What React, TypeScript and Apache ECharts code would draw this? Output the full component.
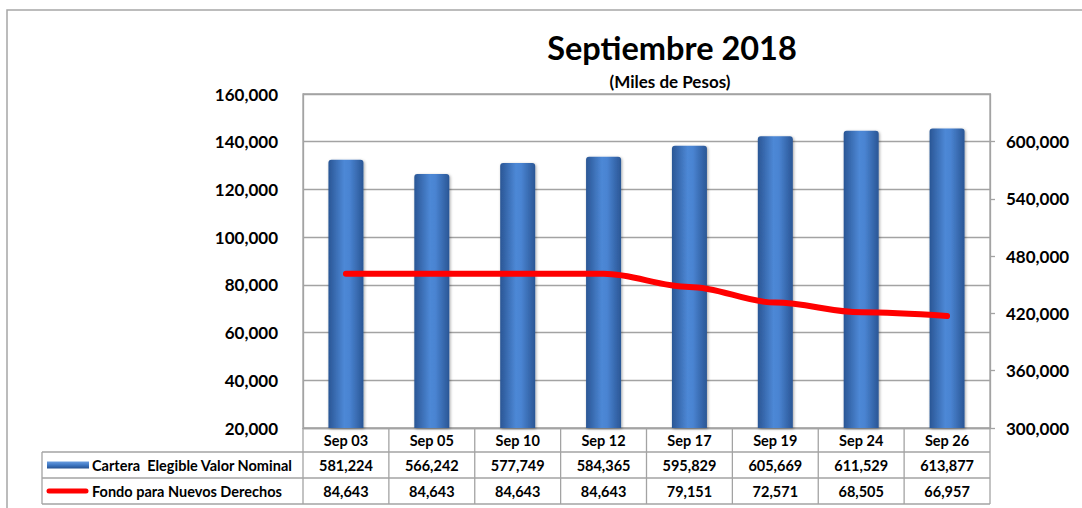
import React, { useEffect, useRef } from "react";
import * as echarts from "echarts";

const categories = ["Sep 03", "Sep 05", "Sep 10", "Sep 12", "Sep 17", "Sep 19", "Sep 24", "Sep 26"];
const carteraValues = [581224, 566242, 577749, 584365, 595829, 605669, 611529, 613877];
const fondoValues = [84643, 84643, 84643, 84643, 79151, 72571, 68505, 66957];
const seriesNames = ["Cartera  Elegible Valor Nominal", "Fondo para Nuevos Derechos"];
const titleText = "Septiembre 2018";
const subtitleText = "(Miles de Pesos)";
const leftAxis = { min: 20000, max: 160000, interval: 20000 };
const rightAxis = { min: 300000, max: 650000, interval: 60000 };

const FONT = "Lato, 'Open Sans', sans-serif";
const GRID_COLOR = "#a3a3a3";
const fmt = (v: number) => v.toLocaleString("en-US");

export default function App() {
  const ref = useRef<HTMLDivElement>(null);
  useEffect(() => {
    if (!ref.current) return;
    const chart = echarts.init(ref.current, undefined, { renderer: "svg" });
    const barGrad = new echarts.graphic.LinearGradient(0, 0, 1, 0, [
      { offset: 0, color: "#2a5695" },
      { offset: 0.45, color: "#4d88d6" },
      { offset: 0.6, color: "#4a84d2" },
      { offset: 1, color: "#2a5695" },
    ]);
    chart.setOption({
      animation: false,
      backgroundColor: "#ffffff",
      grid: {
        left: 303,
        right: 92,
        top: 94,
        bottom: 80,
        show: true,
        borderColor: GRID_COLOR,
        borderWidth: 1.3,
        backgroundColor: "transparent",
      },
      xAxis: {
        type: "category",
        data: categories,
        boundaryGap: true,
        axisLine: { show: true, lineStyle: { color: GRID_COLOR, width: 1.3 } },
        axisTick: { show: false },
        axisLabel: {
          margin: 5,
          fontFamily: FONT,
          fontWeight: "bold",
          fontSize: 14.5,
          color: "#000",
        },
      },
      yAxis: [
        {
          type: "value",
          position: "left",
          min: leftAxis.min,
          max: leftAxis.max,
          interval: leftAxis.interval,
          axisLine: { show: true, lineStyle: { color: GRID_COLOR, width: 1.3 } },
          axisTick: { show: false },
          splitLine: { show: true, lineStyle: { color: GRID_COLOR, width: 1.3 } },
          axisLabel: {
            margin: 25,
            formatter: (v: number) => fmt(v),
            fontFamily: FONT,
            fontWeight: "bold",
            fontSize: 17,
            color: "#000",
          },
        },
        {
          type: "value",
          position: "right",
          min: rightAxis.min,
          max: rightAxis.max,
          interval: rightAxis.interval,
          axisLine: { show: true, lineStyle: { color: GRID_COLOR, width: 1.3 } },
          axisTick: { show: true, length: 5, lineStyle: { color: GRID_COLOR, width: 1.3 } },
          splitLine: { show: false },
          axisLabel: {
            margin: 16,
            showMaxLabel: false,
            formatter: (v: number) => fmt(v),
            fontFamily: FONT,
            fontWeight: "bold",
            fontSize: 17,
            color: "#000",
          },
        },
      ],
      series: [
        {
          name: seriesNames[0],
          type: "bar",
          yAxisIndex: 1,
          data: carteraValues,
          barWidth: 35,
          itemStyle: {
            color: barGrad,
            borderRadius: [3, 3, 0, 0],
            shadowBlur: 3,
            shadowColor: "rgba(0,0,0,0.35)",
            shadowOffsetX: 1,
            shadowOffsetY: 1,
          },
          z: 2,
        },
        {
          name: seriesNames[1],
          type: "line",
          yAxisIndex: 0,
          data: fondoValues,
          smooth: 0.35,
          smoothMonotone: "x",
          showSymbol: false,
          symbol: "none",
          lineStyle: { color: "#ff0000", width: 6, cap: "round", join: "round" },
          z: 3,
        },
      ],
    });

    // Build data table below the plot from library scales
    const centers = categories.map((_, i) => chart.convertToPixel({ xAxisIndex: 0 }, i) as number);
    const step = centers.length > 1 ? centers[1] - centers[0] : 86;
    const x0 = centers[0] - step / 2;
    const x1 = centers[centers.length - 1] + step / 2;
    const yBase = chart.convertToPixel({ yAxisIndex: 0 }, leftAxis.min) as number;
    const r1 = yBase + 24;
    const r2 = yBase + 50;
    const r3 = yBase + 76;
    const legendLeft = 42;
    const lineStyle = { stroke: GRID_COLOR, lineWidth: 1.3 };
    const els: any[] = [];
    // outer border
    els.push({
      type: "rect",
      shape: { x: 7, y: 10, width: 1200, height: 600 },
      style: { fill: "none", stroke: "#a6a6a6", lineWidth: 1.5 },
      silent: true,
    });
    // titles
    els.push({
      type: "text",
      x: 672,
      y: 47,
      style: {
        text: titleText,
        fontFamily: FONT,
        fontWeight: "bold",
        fontSize: 32.5,
        fill: "#000",
        align: "center",
        verticalAlign: "middle",
      },
    });
    els.push({
      type: "text",
      x: 670,
      y: 81,
      style: {
        text: subtitleText,
        fontFamily: FONT,
        fontWeight: "bold",
        fontSize: 17,
        fill: "#000",
        align: "center",
        verticalAlign: "middle",
      },
    });
    [r1, r2, r3].forEach((y) => {
      els.push({ type: "line", shape: { x1: legendLeft, y1: y, x2: x1, y2: y }, style: lineStyle });
    });
    els.push({ type: "line", shape: { x1: legendLeft, y1: r1, x2: legendLeft, y2: r3 }, style: lineStyle });
    for (let i = 0; i <= categories.length; i++) {
      const x = x0 + i * step;
      els.push({ type: "line", shape: { x1: x, y1: yBase, x2: x, y2: r3 }, style: lineStyle });
    }
    const rowVals = [carteraValues, fondoValues];
    const rowMid = [(r1 + r2) / 2, (r2 + r3) / 2];
    rowVals.forEach((vals, r) => {
      vals.forEach((v, i) => {
        els.push({
          type: "text",
          x: centers[i],
          y: rowMid[r],
          style: {
            text: fmt(v),
            fontFamily: FONT,
            fontWeight: "bold",
            fontSize: 14.5,
            fill: "#000",
            align: "center",
            verticalAlign: "middle",
          },
        });
      });
    });
    // legend keys
    els.push({
      type: "rect",
      shape: { x: 47, y: rowMid[0] - 3.5, width: 42, height: 7 },
      style: {
        fill: new echarts.graphic.LinearGradient(0, 0, 0, 1, [
          { offset: 0, color: "#6a9de0" },
          { offset: 0.5, color: "#3f78c4" },
          { offset: 1, color: "#24508f" },
        ]),
      },
    });
    els.push({
      type: "line",
      shape: { x1: 49, y1: rowMid[1], x2: 86, y2: rowMid[1] },
      style: { stroke: "#ff0000", lineWidth: 5, lineCap: "round" },
    });
    seriesNames.forEach((name, r) => {
      els.push({
        type: "text",
        x: 92,
        y: rowMid[r],
        style: {
          text: name,
          fontFamily: FONT,
          fontWeight: "bold",
          fontSize: 14.5,
          fill: "#000",
          align: "left",
          verticalAlign: "middle",
        },
      });
    });
    chart.setOption({ graphic: { elements: els } });

    return () => chart.dispose();
  }, []);
  return (
    <div
      ref={ref}
      style={{ position: "fixed", left: 0, top: 0, width: 1082, height: 508, background: "#fff" }}
    />
  );
}
